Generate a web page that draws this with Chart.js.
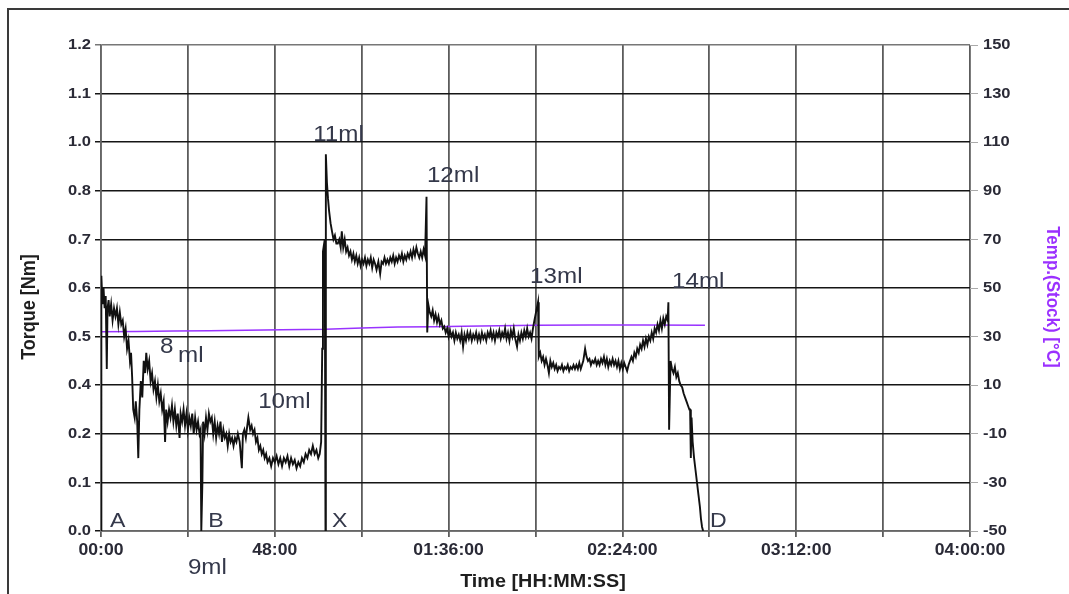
<!DOCTYPE html>
<html lang="en">
<head>
  <meta charset="UTF-8">
  <title>Torque / Temperature</title>
  <script src="https://cdn.jsdelivr.net/npm/chart.js@4.4.0/dist/chart.umd.min.js"></script>
  <style>
    body { margin: 0; background: #fff; }
    #wrap { width: 1069px; height: 594px; }
  </style>
</head>
<body>
  <div id="wrap"><canvas id="torqueChart" width="1069" height="594"></canvas></div>
  <script>
    // time in minutes, torque in Nm
    const torqueSamples = [
      [0,0],[0.1,0.63],[0.4,0.56],[0.7,0.60],[1.0,0.55],[1.3,0.58],[1.6,0.40],[1.8,0.55],[2.1,0.57],[2.4,0.53],
      [2.8,0.56],[3.2,0.52],[3.6,0.55],[4.0,0.53],[4.4,0.55],[4.8,0.51],[5.2,0.54],[5.6,0.51],[6.0,0.52],[6.4,0.48],
      [6.8,0.50],[7.2,0.45],[7.6,0.47],[8.0,0.42],[8.3,0.44],[8.6,0.38],[8.9,0.30],[9.3,0.28],[9.6,0.32],[10.0,0.27],
      [10.3,0.18],[10.6,0.30],[11.0,0.37],[11.4,0.33],[11.8,0.42],[12.2,0.39],[12.5,0.44],[12.9,0.40],[13.3,0.42],[13.7,0.37],
      [14.1,0.39],[14.5,0.35],[14.9,0.37],[15.3,0.33],[15.7,0.36],[16.1,0.32],[16.5,0.34],[16.9,0.30],[17.3,0.32],[17.7,0.22],
      [18.0,0.30],[18.4,0.27],[18.8,0.30],[19.2,0.28],[19.6,0.31],[20.0,0.27],[20.4,0.30],[20.8,0.26],[21.2,0.29],[21.7,0.23],
      [22.0,0.29],[22.4,0.27],[22.8,0.30],[23.2,0.26],[23.6,0.29],[24.0,0.25],[24.4,0.28],[24.8,0.26],[25.2,0.29],[25.6,0.24],
      [26.0,0.28],[26.4,0.25],[26.8,0.27],[27.2,0.24],[27.5,0.25],[27.7,0],[28.0,0.12],[28.2,0.27],
      [28.6,0.24],[29.0,0.28],[29.4,0.25],[29.8,0.29],[30.2,0.27],[30.6,0.28],[31.0,0.24],[31.4,0.27],[31.8,0.23],[32.2,0.26],
      [32.6,0.24],[33.0,0.27],[33.4,0.22],[33.8,0.25],[34.2,0.23],[34.6,0.24],[35.0,0.21],[35.4,0.24],[35.8,0.22],[36.2,0.23],
      [36.6,0.21],[37.0,0.23],[37.4,0.22],[37.8,0.24],[38.3,0.22],[38.9,0.155],[39.2,0.24],[39.6,0.25],[40.0,0.23],[40.4,0.26],
      [40.7,0.28],[41.2,0.25],[41.6,0.26],[42.0,0.24],[42.4,0.25],[42.8,0.22],[43.2,0.23],[43.6,0.20],[44.0,0.21],[44.4,0.19],
      [44.8,0.20],[45.2,0.18],[45.6,0.19],[46.0,0.17],[46.5,0.18],[47.0,0.16],[47.5,0.18],[48.0,0.17],[48.5,0.185],[49.0,0.165],
      [49.5,0.18],[50.0,0.16],[50.5,0.18],[51.0,0.17],[51.5,0.185],[52.0,0.16],[52.5,0.18],[53.0,0.165],[53.5,0.175],[54.0,0.155],
      [54.5,0.17],[55.0,0.16],[55.5,0.18],[56.0,0.17],[56.5,0.19],[57.0,0.18],[57.5,0.20],[58.0,0.19],[58.5,0.21],[59.0,0.19],
      [59.5,0.20],[60.0,0.18],[60.4,0.19],[60.8,0.22],[61.1,0.45],[61.3,0.69],[61.8,0.72],[62.0,0],[62.1,0.93],[62.4,0.86],
      [62.7,0.82],[63.0,0.79],[63.4,0.76],[63.8,0.74],[64.2,0.72],[64.6,0.73],[65.0,0.71],[65.4,0.71],[65.8,0.72],[66.2,0.70],
      [66.5,0.74],[66.9,0.70],[67.3,0.72],[67.7,0.69],[68.1,0.70],[68.5,0.68],[68.9,0.69],[69.3,0.67],[69.7,0.685],[70.1,0.665],
      [70.5,0.68],[70.9,0.66],[71.3,0.675],[71.7,0.655],[72.1,0.67],[72.5,0.66],[72.9,0.675],[73.3,0.655],[73.7,0.67],[74.1,0.66],
      [74.5,0.675],[74.9,0.65],[75.3,0.67],[75.7,0.66],[76.1,0.645],[76.6,0.665],[77.1,0.635],[77.5,0.665],[77.9,0.66],[78.3,0.675],
      [78.7,0.66],[79.1,0.67],[79.5,0.66],[79.9,0.675],[80.3,0.665],[80.7,0.68],[81.1,0.66],[81.5,0.675],[81.9,0.665],[82.3,0.68],
      [82.7,0.67],[83.1,0.685],[83.5,0.665],[83.9,0.68],[84.3,0.67],[84.7,0.685],[85.1,0.675],[85.5,0.69],[85.9,0.675],[86.3,0.695],
      [86.7,0.68],[87.1,0.70],[87.5,0.685],[87.9,0.675],[88.3,0.69],[88.7,0.675],[89.1,0.695],[89.5,0.68],[89.9,0.825],[90.1,0.49],
      [90.4,0.56],[90.8,0.54],[91.2,0.53],[91.6,0.545],[92.0,0.52],[92.4,0.535],[92.8,0.515],[93.2,0.53],[93.6,0.51],[94.0,0.52],
      [94.4,0.50],[94.8,0.505],[95.2,0.49],[95.6,0.50],[96.0,0.48],[96.4,0.495],[96.8,0.48],[97.2,0.49],[97.6,0.47],[98.0,0.49],
      [98.4,0.475],[98.8,0.485],[99.2,0.47],[99.6,0.49],[100.0,0.455],[100.4,0.485],[100.8,0.47],[101.2,0.49],[101.6,0.475],[102.0,0.49],
      [102.4,0.47],[102.8,0.485],[103.2,0.475],[103.6,0.49],[104.0,0.47],[104.4,0.485],[104.8,0.47],[105.2,0.49],[105.6,0.475],[106.0,0.485],
      [106.4,0.47],[106.8,0.49],[107.2,0.48],[107.6,0.495],[108.0,0.475],[108.4,0.49],[108.8,0.47],[109.2,0.49],[109.6,0.48],[110.0,0.495],
      [110.4,0.475],[110.8,0.49],[111.2,0.48],[111.6,0.50],[112.0,0.475],[112.4,0.49],[112.8,0.47],[113.2,0.495],[113.6,0.48],[114.0,0.50],
      [114.4,0.475],[114.9,0.455],[115.3,0.485],[115.7,0.47],[116.1,0.49],[116.5,0.475],[116.9,0.495],[117.3,0.48],[117.7,0.50],[118.1,0.48],
      [118.5,0.49],[118.9,0.475],[119.3,0.50],[119.7,0.52],[120.7,0.565],[120.9,0.43],[121.3,0.44],[121.7,0.42],[122.1,0.43],[122.5,0.41],
      [122.9,0.425],[123.3,0.41],[123.7,0.39],[124.1,0.42],[124.5,0.405],[124.9,0.415],[125.3,0.40],[125.7,0.41],[126.1,0.395],[126.5,0.405],
      [126.9,0.40],[127.3,0.41],[127.7,0.395],[128.1,0.405],[128.5,0.40],[128.9,0.41],[129.3,0.395],[129.7,0.405],[130.1,0.40],[130.5,0.41],
      [130.9,0.40],[131.3,0.41],[131.7,0.40],[132.1,0.415],[132.5,0.40],[133.2,0.42],[133.7,0.45],[134.1,0.43],[134.5,0.42],[134.9,0.425],
      [135.3,0.41],[135.7,0.42],[136.1,0.415],[136.5,0.425],[136.9,0.41],[137.3,0.42],[137.7,0.41],[138.1,0.425],[138.5,0.415],[138.9,0.43],
      [139.3,0.41],[139.7,0.425],[140.1,0.405],[140.5,0.42],[140.9,0.41],[141.3,0.425],[141.7,0.41],[142.1,0.42],[142.5,0.405],[142.9,0.42],
      [143.3,0.40],[143.7,0.415],[144.1,0.40],[144.5,0.415],[144.9,0.405],[145.3,0.395],[145.7,0.41],[146.1,0.42],[146.5,0.43],[146.9,0.42],
      [147.3,0.44],[147.7,0.43],[148.1,0.45],[148.5,0.44],[148.9,0.46],[149.3,0.45],[149.7,0.47],[150.1,0.455],[150.5,0.475],[150.9,0.46],
      [151.3,0.48],[151.7,0.47],[152.1,0.49],[152.5,0.475],[152.9,0.50],[153.3,0.49],[153.7,0.51],[154.1,0.495],[154.5,0.52],[154.9,0.50],
      [155.3,0.525],[155.7,0.51],[156.1,0.53],[156.5,0.52],[156.7,0.565],[156.9,0.25],[157.3,0.42],[157.7,0.40],[158.1,0.39],[158.5,0.405],
      [158.9,0.38],[159.3,0.39],[159.7,0.37],[160.1,0.36],[160.5,0.355],[160.9,0.34],[161.3,0.33],[161.7,0.32],[162.1,0.31],[162.5,0.30],
      [162.7,0.30],[162.9,0.18],[163.1,0.28],[163.4,0.22],[163.8,0.18],[164.2,0.15],[164.6,0.12],[165.0,0.09],[165.4,0.06],[165.7,0.03],
      [166.0,0.01],[166.3,0]
    ];

    // time in minutes, stock temperature in degC
    const tempSamples = [
      [0,32.0],[10,32.1],[20,32.3],[30,32.4],[40,32.6],[50,32.8],[62,33.0],[72,33.5],[82,34.0],[92,34.1],
      [100,34.3],[110,34.5],[120,34.7],[135,34.8],[150,34.8],[166.8,34.7]
    ];

    const yTickValues = [0, 0.12, 0.24, 0.36, 0.48, 0.6, 0.72, 0.84, 0.96, 1.08, 1.2];
    const yTickLabels = ['0.0', '0.1', '0.2', '0.4', '0.5', '0.6', '0.7', '0.8', '1.0', '1.1', '1.2'];
    const y2TickValues = [-50, -30, -10, 10, 30, 50, 70, 90, 110, 130, 150];
    const y2TickLabels = ['-50', '-30', '-10', '10', '30', '50', '70', '90', '110', '130', '150'];
    const xTickValues = [0, 48, 96, 144, 192, 240];
    const xTickLabels = ['00:00', '48:00', '01:36:00', '02:24:00', '03:12:00', '04:00:00'];

    // dose notes: [text, minutes, Nm, font size]
    const notes = [
      ['8', 16.3, 0.44, 22], ['ml', 21.3, 0.417, 22], ['9ml', 24.0, -0.106, 22], ['10ml', 43.4, 0.304, 22],
      ['11ml', 58.6, 0.963, 22], ['12ml', 90.0, 0.862, 22], ['13ml', 118.5, 0.612, 22], ['14ml', 157.7, 0.60, 22],
      ['A', 2.5, 0.01, 21], ['B', 29.6, 0.01, 21], ['X', 63.8, 0.01, 21], ['D', 168.2, 0.01, 21]
    ];

    const FONT = "'Liberation Sans', Arial, sans-serif";
    const S = 1.1; // the source picture is a little wider than tall

    function txt(ctx, s, x, y, font, color, align, base, rot) {
      ctx.save();
      ctx.translate(x, y);
      ctx.scale(S, 1);
      if (rot) ctx.rotate(rot);
      ctx.font = font;
      ctx.fillStyle = color;
      ctx.textAlign = align;
      ctx.textBaseline = base;
      ctx.fillText(s, 0, 0);
      ctx.restore();
    }

    const decor = {
      id: 'decor',
      beforeDraw(chart) {
        const ctx = chart.ctx;
        ctx.save();
        ctx.fillStyle = '#fff';
        ctx.fillRect(0, 0, chart.width, chart.height);
        ctx.strokeStyle = '#3a3a3a';
        ctx.lineWidth = 2;
        ctx.beginPath();
        ctx.moveTo(8, chart.height);
        ctx.lineTo(8, 9);
        ctx.lineTo(chart.width, 9);
        ctx.stroke();
        ctx.restore();
      },
      afterDraw(chart) {
        const ctx = chart.ctx;
        const { x, y, y2 } = chart.scales;
        const tickFont = 'bold 15px ' + FONT;
        yTickValues.forEach((v, i) => txt(ctx, yTickLabels[i], 91, y.getPixelForValue(v), tickFont, '#2a2a36', 'right', 'middle'));
        y2TickValues.forEach((v, i) => txt(ctx, y2TickLabels[i], 983, y2.getPixelForValue(v), tickFont, '#2a2a36', 'left', 'middle'));
        xTickValues.forEach((v, i) => txt(ctx, xTickLabels[i], x.getPixelForValue(v), 551, 'bold 16px ' + FONT, '#2a2a36', 'center', 'middle'));

        txt(ctx, 'Time [HH:MM:SS]', 543, 582, 'bold 18px ' + FONT, '#1e1e1e', 'center', 'middle');
        txt(ctx, 'Torque [Nm]', 30, 307, 'bold 18px ' + FONT, '#1e1e1e', 'center', 'middle', -Math.PI / 2);
        txt(ctx, 'Temp.(Stock) [°C]', 1052, 297, 'bold 17px ' + FONT, '#9b30ff', 'center', 'middle', Math.PI / 2);

        notes.forEach(n => txt(ctx, n[0], x.getPixelForValue(n[1]), y.getPixelForValue(n[2]),
          n[3] + 'px ' + FONT, '#34384a', 'left', 'alphabetic'));
      }
    };

    const ctx = document.getElementById('torqueChart').getContext('2d');
    new Chart(ctx, {
      type: 'line',
      data: {
        datasets: [
          {
            label: 'Torque',
            data: torqueSamples.map(p => ({ x: p[0], y: p[1] })),
            yAxisID: 'y',
            borderColor: '#111',
            borderWidth: 1.9,
            pointRadius: 0,
            tension: 0
          },
          {
            label: 'Temp.(Stock)',
            data: tempSamples.map(p => ({ x: p[0], y: p[1] })),
            yAxisID: 'y2',
            borderColor: '#9933ff',
            borderWidth: 1.5,
            pointRadius: 0,
            tension: 0
          }
        ]
      },
      options: {
        responsive: false,
        animation: false,
        layout: { padding: { top: 45, left: 0, right: 0, bottom: 0 } },
        plugins: { legend: { display: false }, tooltip: { enabled: false } },
        scales: {
          x: {
            type: 'linear',
            min: 0,
            max: 240,
            ticks: { stepSize: 24, display: false },
            grid: { color: '#5c5c5c', lineWidth: 1.8, tickLength: 6 },
            border: { color: '#666', width: 1.5 },
            afterFit: s => { s.height = 63; }
          },
          y: {
            position: 'left',
            min: 0,
            max: 1.2,
            afterBuildTicks: s => { s.ticks = yTickValues.map(v => ({ value: v })); },
            ticks: { display: false },
            grid: {
              color: c => (c.tick && c.tick.value >= 1.2 ? '#777' : '#151515'),
              lineWidth: 1.5,
              tickLength: 6
            },
            border: { color: '#666', width: 1.5 },
            afterFit: s => { s.width = 101; }
          },
          y2: {
            position: 'right',
            min: -50,
            max: 150,
            afterBuildTicks: s => { s.ticks = y2TickValues.map(v => ({ value: v })); },
            ticks: { display: false },
            grid: { drawOnChartArea: false, color: '#aaa', tickLength: 8 },
            border: { display: false },
            afterFit: s => { s.width = 99; }
          }
        }
      },
      plugins: [decor]
    });
  </script>
</body>
</html>
